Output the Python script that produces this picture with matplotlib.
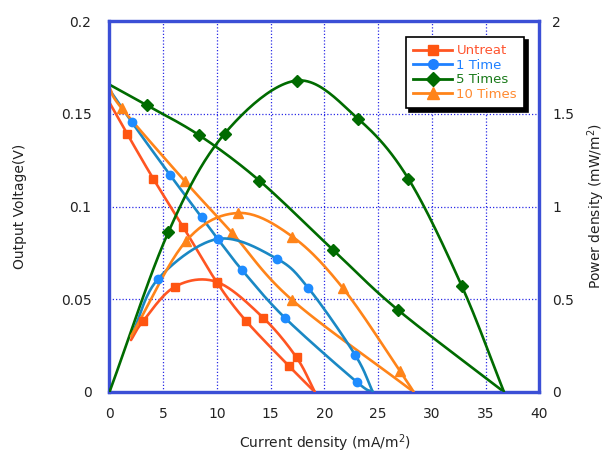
import numpy as np
import matplotlib
matplotlib.use("Agg")
import matplotlib.pyplot as plt
from matplotlib.lines import Line2D

plt.rcParams['font.family'] = ['DejaVu Sans']

# ---------------- data ----------------
series_names = ["Untreat", "1 Time", "5 Times", "10 Times"]

# Output voltage (left axis): current density (mA/m2) vs voltage (V)
untreat_v_x = [0.0, 1.66, 4.07, 6.87, 10.0, 12.67, 16.73, 19.1]
untreat_v_y = [0.156, 0.139, 0.115, 0.0888, 0.059, 0.0385, 0.0138, 0.0]
one_v_x = [0.0, 2.06, 5.63, 8.58, 10.07, 12.35, 16.33, 23.0, 24.5]
one_v_y = [0.163, 0.1456, 0.117, 0.0942, 0.0825, 0.0656, 0.0399, 0.0054, 0.0]
five_v_x = [0.0, 3.46, 8.35, 13.93, 20.76, 26.8, 36.7]
five_v_y = [0.1657, 0.1546, 0.1384, 0.114, 0.0768, 0.0444, 0.0]
ten_v_x = [0.0, 1.13, 7.02, 11.4, 16.95, 28.3]
ten_v_y = [0.164, 0.153, 0.1136, 0.0858, 0.0498, 0.0]

# Power density (right axis): current density (mA/m2) vs power (mW/m2)
untreat_p_x = [2.0, 3.1, 6.1, 10.0, 14.3, 17.4, 19.1]
untreat_p_y = [0.28, 0.38, 0.568, 0.593, 0.40, 0.186, 0.0]
one_p_x = [2.1, 4.54, 10.07, 15.55, 18.5, 22.84, 24.5]
one_p_y = [0.31, 0.611, 0.825, 0.719, 0.56, 0.201, 0.0]
five_p_x = [0.0, 5.47, 10.7, 17.41, 23.14, 27.8, 32.76, 36.7]
five_p_y = [0.0, 0.861, 1.392, 1.679, 1.472, 1.15, 0.573, 0.0]
ten_p_x = [2.0, 7.1, 12.0, 17.0, 21.7, 27.0, 28.3]
ten_p_y = [0.30, 0.812, 0.965, 0.838, 0.561, 0.115, 0.0]

x_ticks = [0, 5, 10, 15, 20, 25, 30, 35, 40]
v_ticks = [0, 0.05, 0.1, 0.15, 0.2]
v_tick_labels = ["0", "0.05", "0.1", "0.15", "0.2"]
p_ticks = [0, 0.5, 1, 1.5, 2]
p_tick_labels = ["0", "0.5", "1", "1.5", "2"]

# ---------------- styles ----------------
line_colors = ["#ff5522", "#1a88c4", "#006b00", "#ff8419"]
marker_colors = ["#ff5511", "#1e8cff", "#006b00", "#ff8419"]
legend_line_colors = ["#ff5522", "#1e80ff", "#006b00", "#ff8419"]
text_colors = ["#ff5530", "#1e80ff", "#1a7a1a", "#ff8a30"]
markers = ["s", "o", "D", "^"]
msizes = [6, 6, 6, 7]
spine_color = "#3b4fd6"
grid_color = "#2a2ae6"


def smooth(x, y, n=24):
    """Catmull-Rom curve through the points (Excel-like smoothed line)."""
    p = np.column_stack([x, y]).astype(float)
    if len(p) < 3:
        return p[:, 0], p[:, 1]
    ext = np.vstack([2 * p[0] - p[1], p, 2 * p[-1] - p[-2]])
    out = []
    t = np.linspace(0, 1, n, endpoint=False)
    for i in range(1, len(ext) - 2):
        p0, p1, p2, p3 = ext[i - 1], ext[i], ext[i + 1], ext[i + 2]
        tt = t[:, None]
        seg = 0.5 * ((2 * p1) + (-p0 + p2) * tt + (2 * p0 - 5 * p1 + 4 * p2 - p3) * tt ** 2
                     + (-p0 + 3 * p1 - 3 * p2 + p3) * tt ** 3)
        out.append(seg)
    out.append(p[-1][None, :])
    out = np.vstack(out)
    return out[:, 0], out[:, 1]


fig = plt.figure(figsize=(6.10, 4.53), dpi=100)
ax1 = fig.add_axes([0.1795, 0.1347, 0.7049, 0.8189])
ax2 = ax1.twinx()

volt = [(untreat_v_x, untreat_v_y), (one_v_x, one_v_y), (five_v_x, five_v_y), (ten_v_x, ten_v_y)]
powr = [(untreat_p_x, untreat_p_y), (one_p_x, one_p_y), (five_p_x, five_p_y), (ten_p_x, ten_p_y)]

for i in range(4):
    vx, vy = volt[i]
    sx, sy = smooth(vx, vy)
    ax1.plot(sx, sy, color=line_colors[i], lw=1.9, zorder=3, solid_capstyle='round')
    ax1.plot(vx[1:-1], vy[1:-1], ls='none', marker=markers[i], ms=msizes[i],
             color=marker_colors[i], mec=marker_colors[i], zorder=4)
    px, py = powr[i]
    sx, sy = smooth(px, py)
    ax2.plot(sx, sy, color=line_colors[i], lw=1.9, zorder=3, solid_capstyle='round')
    ax2.plot(px[1:-1], py[1:-1], ls='none', marker=markers[i], ms=msizes[i],
             color=marker_colors[i], mec=marker_colors[i], zorder=4)

ax1.set_xlim(0, 40)
ax1.set_ylim(0, 0.2)
ax2.set_ylim(0, 2)
ax1.set_xticks(x_ticks)
ax1.set_yticks(v_ticks)
ax1.set_yticklabels(v_tick_labels)
ax2.set_yticks(p_ticks)
ax2.set_yticklabels(p_tick_labels)

ax1.grid(True, color=grid_color, ls=(0, (1.0, 1.6)), lw=0.9)
ax1.set_axisbelow(True)

for ax in (ax1, ax2):
    for s in ax.spines.values():
        s.set_color(spine_color)
        s.set_linewidth(2.3)
    ax.tick_params(length=0, labelsize=10, colors="#222222")
ax1.tick_params(axis='x', pad=11)
ax1.tick_params(axis='y', pad=13)
ax2.tick_params(axis='y', pad=9)

ax1.set_xlabel("Current density (mA/m$^2$)", fontsize=10, color="#222222", labelpad=8)
ax1.set_ylabel("Output Voltage(V)", fontsize=10, color="#222222", labelpad=24)
ax2.set_ylabel("Power density (mW/m$^2$)", fontsize=10, color="#222222", labelpad=8)

handles = [Line2D([0], [0], color=legend_line_colors[i], lw=2.0, marker=markers[i],
                  ms=msizes[i] + 1, mfc=marker_colors[i] if i != 1 else legend_line_colors[i],
                  mec=marker_colors[i] if i != 1 else legend_line_colors[i])
           for i in range(4)]
leg = ax2.legend(handles, series_names, loc='upper right', bbox_to_anchor=(0.98, 0.975),
                 fontsize=9.5, frameon=True, fancybox=False, edgecolor='black',
                 framealpha=1, handlelength=3.0, handletextpad=0.3, labelspacing=0.12,
                 borderpad=0.55, shadow={'color': 'black', 'alpha': 1.0, 'ox': 2.5, 'oy': -2.5})
leg.get_frame().set_linewidth(1.2)
for t, c in zip(leg.get_texts(), text_colors):
    t.set_color(c)

fig.savefig("out.png", dpi=100)
